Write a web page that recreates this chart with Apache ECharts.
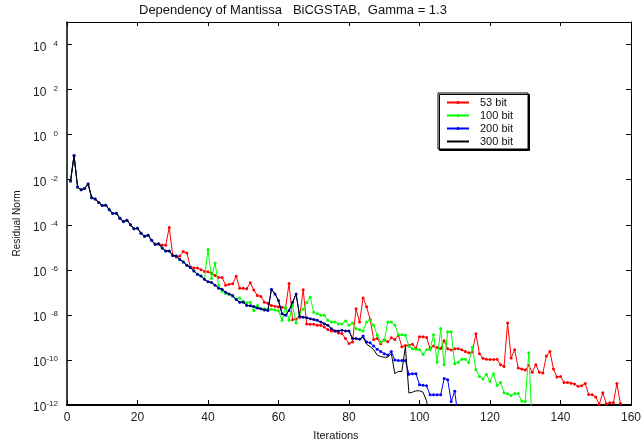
<!DOCTYPE html>
<html>
<head>
<meta charset="utf-8">
<script src="https://cdn.jsdelivr.net/npm/echarts@6/dist/echarts.min.js"></script>
<style>
html,body{margin:0;padding:0;background:#fff;}
#chart{width:644px;height:446px;}
</style>
</head>
<body>
<div id="chart"></div>
<script>
// Series names
const seriesNames = ['53 bit', '100 bit', '200 bit', '300 bit'];

// Residual norm per iteration (iteration 1, 2, 3, ...), stored as log10 exponent
const bit53Log10 = [
  -2.06,-0.93,-2.32,-2.45,-2.39,-2.19,-2.80,-2.86,-3.01,-3.15,
  -3.13,-3.33,-3.50,-3.49,-3.71,-3.86,-3.80,-4.00,-4.18,-4.15,
  -4.38,-4.51,-4.47,-4.69,-4.85,-4.86,-4.90,-4.91,-4.12,-5.36,
  -5.43,-5.39,-5.19,-5.25,-5.87,-5.92,-5.92,-6.00,-6.07,-6.09,
  -6.15,-6.25,-6.34,-6.34,-6.68,-6.64,-6.62,-6.29,-6.82,-6.82,
  -6.84,-6.57,-6.90,-7.14,-7.18,-7.44,-7.48,-7.58,-7.62,-7.65,
  -7.66,-7.70,-6.61,-8.22,-8.18,-8.10,-6.88,-8.40,-8.42,-8.42,
  -8.46,-8.46,-8.54,-8.65,-8.71,-8.71,-8.80,-8.83,-9.05,-9.27,
  -9.20,-7.73,-8.32,-7.25,-7.64,-8.21,-9.09,-9.05,-9.28,-9.10,
  -9.19,-9.02,-9.09,-8.90,-9.41,-9.36,-9.35,-9.30,-9.49,-8.97,
  -8.97,-9.00,-9.49,-9.38,-9.45,-9.49,-9.15,-9.50,-9.56,-9.50,
  -9.50,-9.55,-9.63,-9.68,-9.65,-8.84,-9.72,-9.93,-9.97,-9.98,
  -9.98,-9.97,-10.21,-10.29,-8.36,-9.91,-9.55,-10.36,-10.40,-10.45,
  -10.25,-10.55,-10.21,-10.55,-10.58,-9.82,-9.63,-10.40,-10.76,-10.73,
  -11.00,-11.00,-11.03,-11.07,-11.17,-11.15,-11.05,-11.53,-11.55,-11.64,
  -11.97,-11.46,-11.94,-11.90,-11.90,-11.05,-11.93
];
const bit100Log10 = [
  -2.06,-0.93,-2.32,-2.45,-2.39,-2.19,-2.80,-2.86,-3.01,-3.15,
  -3.13,-3.33,-3.50,-3.49,-3.71,-3.86,-3.80,-4.00,-4.18,-4.15,
  -4.38,-4.51,-4.47,-4.69,-4.88,-4.84,-5.03,-5.17,-5.16,-5.36,
  -5.39,-5.54,-5.65,-5.80,-5.90,-6.05,-6.20,-6.27,-6.42,-5.10,
  -6.38,-5.70,-6.68,-6.95,-7.05,-7.08,-7.18,-7.30,-7.25,-7.40,
  -7.46,-7.44,-7.80,-7.58,-7.73,-7.73,-7.75,-7.75,-7.78,-7.83,
  -8.24,-7.66,-8.24,-7.58,-8.36,-7.90,-7.75,-7.45,-7.22,-7.88,
  -7.95,-8.02,-8.02,-8.24,-8.32,-8.32,-8.40,-8.40,-8.27,-8.46,
  -8.36,-8.61,-8.66,-8.71,-8.32,-8.24,-8.46,-8.90,-9.20,-9.15,
  -8.32,-8.32,-8.45,-8.88,-8.88,-8.90,-9.40,-9.50,-9.53,-9.55,
  -9.75,-9.55,-9.55,-8.88,-10.10,-8.60,-10.21,-8.75,-8.75,-10.17,
  -10.10,-9.97,-9.97,-10.11,-9.44,-10.43,-10.73,-10.85,-10.65,-10.95,
  -10.61,-11.14,-11.00,-11.46,-11.50,-11.58,-11.49,-11.49,-11.82,-11.85,
  -9.68,-13.00
];
const bit200Log10 = [
  -2.06,-0.93,-2.32,-2.45,-2.39,-2.19,-2.80,-2.86,-3.01,-3.15,
  -3.13,-3.33,-3.50,-3.49,-3.71,-3.86,-3.80,-4.00,-4.18,-4.15,
  -4.38,-4.51,-4.47,-4.69,-4.88,-4.84,-5.03,-5.17,-5.16,-5.36,
  -5.39,-5.54,-5.65,-5.80,-5.90,-6.05,-6.20,-6.27,-6.42,-6.53,
  -6.56,-6.68,-6.82,-6.86,-7.00,-7.07,-7.14,-7.32,-7.44,-7.44,
  -7.58,-7.60,-7.63,-7.69,-7.73,-7.78,-7.80,-6.86,-7.07,-7.36,
  -7.95,-8.02,-7.80,-7.44,-7.07,-8.07,-8.10,-8.13,-8.17,-8.21,
  -8.24,-8.32,-8.39,-8.46,-8.61,-8.71,-8.71,-8.68,-8.71,-8.71,
  -9.05,-9.05,-9.08,-8.94,-9.20,-9.24,-9.38,-9.52,-9.63,-9.72,
  -9.78,-9.63,-10.00,-10.03,-10.03,-10.03,-10.63,-10.61,-10.61,-11.10,
  -11.12,-11.15,-11.55,-11.55,-11.55,-11.55,-10.82,-10.88,-11.85,-11.39,
  -12.60
];
const bit300Log10 = [
  -2.06,-0.93,-2.32,-2.45,-2.39,-2.19,-2.80,-2.86,-3.01,-3.15,
  -3.13,-3.33,-3.50,-3.49,-3.71,-3.86,-3.80,-4.00,-4.18,-4.15,
  -4.38,-4.51,-4.47,-4.69,-4.88,-4.84,-5.03,-5.17,-5.16,-5.36,
  -5.39,-5.54,-5.65,-5.80,-5.90,-6.05,-6.20,-6.27,-6.42,-6.53,
  -6.56,-6.68,-6.82,-6.86,-7.00,-7.07,-7.14,-7.32,-7.44,-7.44,
  -7.58,-7.60,-7.63,-7.69,-7.73,-7.78,-7.80,-6.86,-7.07,-7.36,
  -7.95,-8.02,-7.80,-7.44,-7.07,-8.07,-8.10,-8.13,-8.17,-8.21,
  -8.24,-8.32,-8.39,-8.46,-8.61,-8.71,-8.71,-8.68,-8.71,-8.71,
  -9.05,-9.05,-9.08,-9.00,-9.30,-9.41,-9.54,-9.78,-9.85,-9.88,
  -9.88,-9.71,-10.61,-10.51,-10.51,-9.41,-11.47,-11.43,-11.37,-11.37,
  -11.43,-11.82,-12.60
];

// Axis ticks
const xTickValues = [0, 20, 40, 60, 80, 100, 120, 140, 160];
const yTickExponents = [-12, -10, -8, -6, -4, -2, 0, 2, 4];

const FONT = '"Liberation Sans", Arial, sans-serif';

function toPoints(logs) {
  return logs.map((e, i) => [i + 1, Math.pow(10, e)]);
}

const colors = ['#ff0000', '#00ff00', '#0000ff', '#000000'];
const allLogs = [bit53Log10, bit100Log10, bit200Log10, bit300Log10];

const series = seriesNames.map((name, k) => ({
  name: name,
  type: 'line',
  xAxisIndex: 0,
  yAxisIndex: 0,
  data: toPoints(allLogs[k]),
  symbol: k === 3 ? 'none' : 'circle',
  symbolSize: 3,
  showAllSymbol: true,
  clip: true,
  lineStyle: { color: colors[k], width: 1 },
  itemStyle: { color: colors[k] },
  emphasis: { disabled: true },
  z: 2 + k
}));

const chart = echarts.init(document.getElementById('chart'), null, { renderer: 'canvas' });

const tickLabelFormatter = function (v) {
  if (yTickExponents.indexOf(v) < 0) return '';
  return '{b|10}{s|' + v + '}';
};

chart.setOption({
  animation: false,
  backgroundColor: '#ffffff',
  textStyle: { fontFamily: FONT },
  title: {
    text: 'Dependency of Mantissa   BiCGSTAB,  Gamma = 1.3',
    left: 139,
    top: 4,
    padding: 0,
    textStyle: { fontFamily: FONT, fontSize: 13, fontWeight: 'normal', color: '#111' }
  },
  legend: {
    data: seriesNames.map((n, k) => k === 3 ? { name: n, itemStyle: { opacity: 0 } } : n),
    orient: 'vertical',
    left: 438,
    top: 93,
    itemWidth: 22,
    itemHeight: 4,
    itemGap: 2,
    padding: [4, 15, 2, 8],
    borderColor: '#000',
    borderWidth: 1,
    borderRadius: 0,
    backgroundColor: '#ffffff',
    shadowColor: '#000',
    shadowBlur: 0,
    shadowOffsetX: 1.5,
    shadowOffsetY: 1.5,
    selectedMode: false,
    textStyle: { fontFamily: FONT, fontSize: 11, color: '#111', padding: [0, 0, 0, 6] }
  },
  grid: { left: 67, right: 12, top: 22, bottom: 37, containLabel: false },
  xAxis: [
    {
      type: 'value', min: xTickValues[0], max: xTickValues[xTickValues.length - 1], interval: 20,
      position: 'bottom',
      name: 'Iterations', nameLocation: 'middle', nameGap: 25,
      nameTextStyle: { fontFamily: FONT, fontSize: 11, color: '#111', padding: [0, 26, 0, 0] },
      axisLine: { show: true, onZero: false, lineStyle: { color: '#000', width: 2 } },
      axisTick: { show: true, inside: true, length: 5, lineStyle: { color: '#000', width: 1 } },
      axisLabel: { margin: 7, fontFamily: FONT, fontSize: 12, color: '#222' },
      splitLine: { show: false }
    },
    {
      type: 'value', min: xTickValues[0], max: xTickValues[xTickValues.length - 1], interval: 20,
      position: 'top',
      axisLine: { show: true, onZero: false, lineStyle: { color: '#000', width: 1 } },
      axisTick: { show: true, inside: true, length: 4, lineStyle: { color: '#000', width: 1 } },
      axisLabel: { show: false },
      splitLine: { show: false }
    }
  ],
  yAxis: [
    {
      type: 'log', logBase: 10, min: 1e-12, max: 1e5,
      show: false,
      splitLine: { show: false }
    },
    {
      type: 'value', min: -12, max: 5, interval: 2,
      position: 'left',
      name: 'Residual Norm', nameLocation: 'middle', nameRotate: 90, nameGap: 45,
      nameTextStyle: { fontFamily: FONT, fontSize: 10, color: '#111', padding: [0, 20, 0, 0] },
      axisLine: { show: true, onZero: false, lineStyle: { color: '#000', width: 1.5 } },
      axisTick: { show: true, inside: true, length: 5, lineStyle: { color: '#000', width: 1 } },
      axisLabel: {
        margin: 9,
        padding: [6, 0, 0, 0],
        showMaxLabel: false,
        formatter: tickLabelFormatter,
        rich: {
          b: { fontFamily: FONT, fontSize: 12, color: '#222', lineHeight: 16, width: 14, align: 'left' },
          s: { fontFamily: FONT, fontSize: 8, color: '#222', lineHeight: 8, verticalAlign: 'top', width: 11, align: 'right' }
        }
      },
      splitLine: { show: false }
    },
    {
      type: 'value', min: -12, max: 5, interval: 2,
      position: 'right',
      axisLine: { show: true, onZero: false, lineStyle: { color: '#000', width: 1 } },
      axisTick: { show: true, inside: true, length: 5, lineStyle: { color: '#000', width: 1 } },
      axisLabel: { show: false },
      splitLine: { show: false }
    }
  ],
  series: series
});
</script>
</body>
</html>
